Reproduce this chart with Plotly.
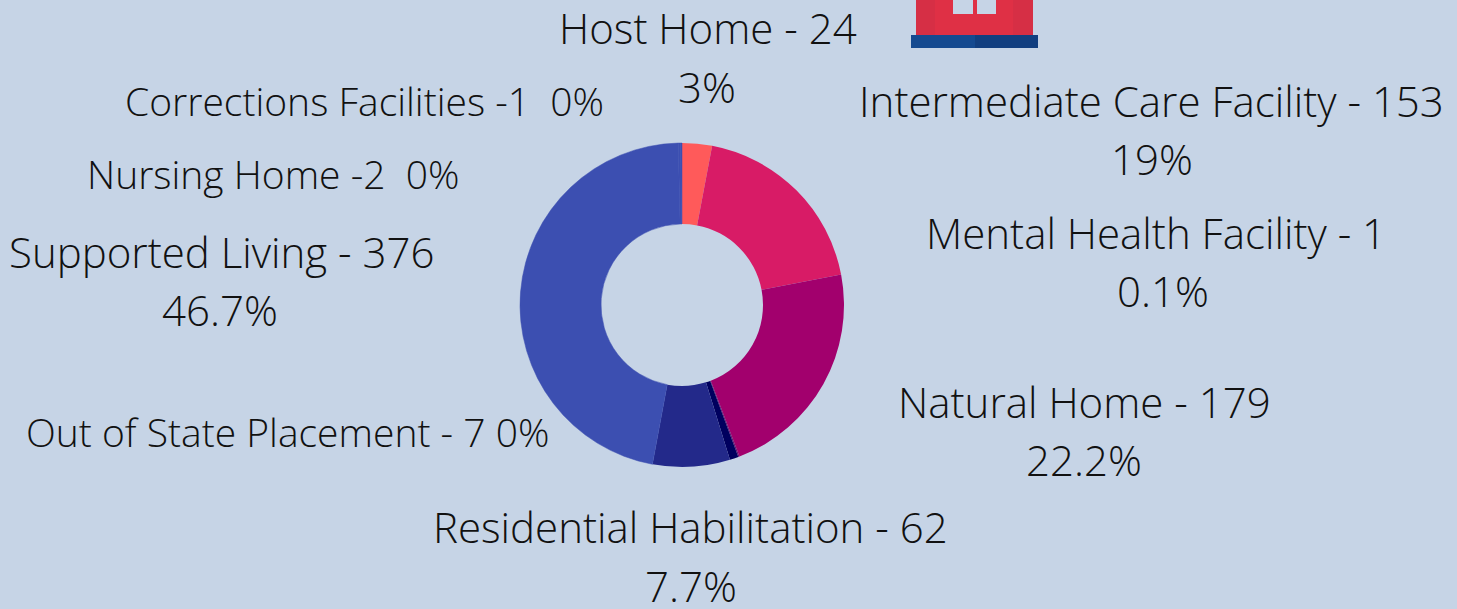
import plotly.graph_objects as go

W, H = 1457, 609
categories = ["Host Home", "Intermediate Care Facility", "Natural Home", "Mental Health Facility",
              "Out of State Placement", "Residential Habilitation", "Supported Living",
              "Nursing Home", "Corrections Facilities"]
values = [24, 153, 179, 1, 7, 62, 376, 2, 1]
colors = ["#FF5A5A", "#D81B66", "#A2006D", "#6A0F70", "#00005E", "#23298A", "#3C4FB1", "#3C4FB1", "#3C4FB1"]
seam_widths = [0, 0, 0, 0, 0, 0, 0.5, 0.5, 0.5]

labels = [
    ("Host Home - 24", 708, 28, 42), ("3%", 707, 87, 42),
    ("Corrections Facilities -1  0%", 364, 100, 39),
    ("Intermediate Care Facility - 153", 1151, 100, 42), ("19%", 1152, 158, 42),
    ("Nursing Home -2  0%", 273, 173, 39),
    ("Mental Health Facility - 1", 1156, 232, 42), ("0.1%", 1163, 290, 42),
    ("Supported Living - 376", 221, 251, 42), ("46.7%", 220, 309, 42),
    ("Natural Home - 179", 1084, 401, 42), ("22.2%", 1084, 459, 42),
    ("Out of State Placement - 7 0%", 287, 431, 39),
    ("Residential Habilitation - 62", 690, 526, 42), ("7.7%", 691, 585, 42),
]

fig = go.Figure(go.Pie(
    values=values, labels=categories, hole=0.5, sort=False, direction="clockwise", rotation=0,
    marker=dict(colors=colors, line=dict(width=seam_widths, color=colors)), textinfo="none", hoverinfo="label+value",
    domain=dict(x=[0, 2 * 682 / W], y=[(H - 467) / H, (H - 143) / H]),
))

def px(x0, y0, x1, y1, color):
    return dict(type="rect", xref="paper", yref="paper", x0=x0 / W, x1=x1 / W,
                y0=1 - y0 / H, y1=1 - y1 / H, fillcolor=color, line=dict(width=0), layer="above")

fig.update_layout(
    width=W, height=H, margin=dict(l=0, r=0, t=0, b=0), showlegend=False,
    paper_bgcolor="#C6D4E6", plot_bgcolor="#C6D4E6",
    font=dict(family="Open Sans", color="#111111"),
    annotations=[dict(text=t, x=x / W, y=1 - y / H, xref="paper", yref="paper", xanchor="center",
                      yanchor="middle", showarrow=False,
                      font=dict(size=s, family="Open Sans", color="#111111", weight=300))
                 for t, x, y, s in labels],
    shapes=[
        px(916, 0, 1033, 35, "#DF3045"),
        px(916, 0, 935, 35, "#D62F45"),
        px(1013, 0, 1033, 35, "#D62F45"),
        px(953, 0, 973, 14, "#C6D4E6"),
        px(977, 0, 996, 14, "#C6D4E6"),
        px(911, 35, 975, 48, "#154A90"),
        px(975, 35, 1038, 48, "#123F80"),
    ],
)
fig.write_html("out.html", config=dict(displayModeBar=False),
               post_script="document.body.style.margin='0';document.body.style.background='#C6D4E6';document.body.style.overflow='hidden';")
